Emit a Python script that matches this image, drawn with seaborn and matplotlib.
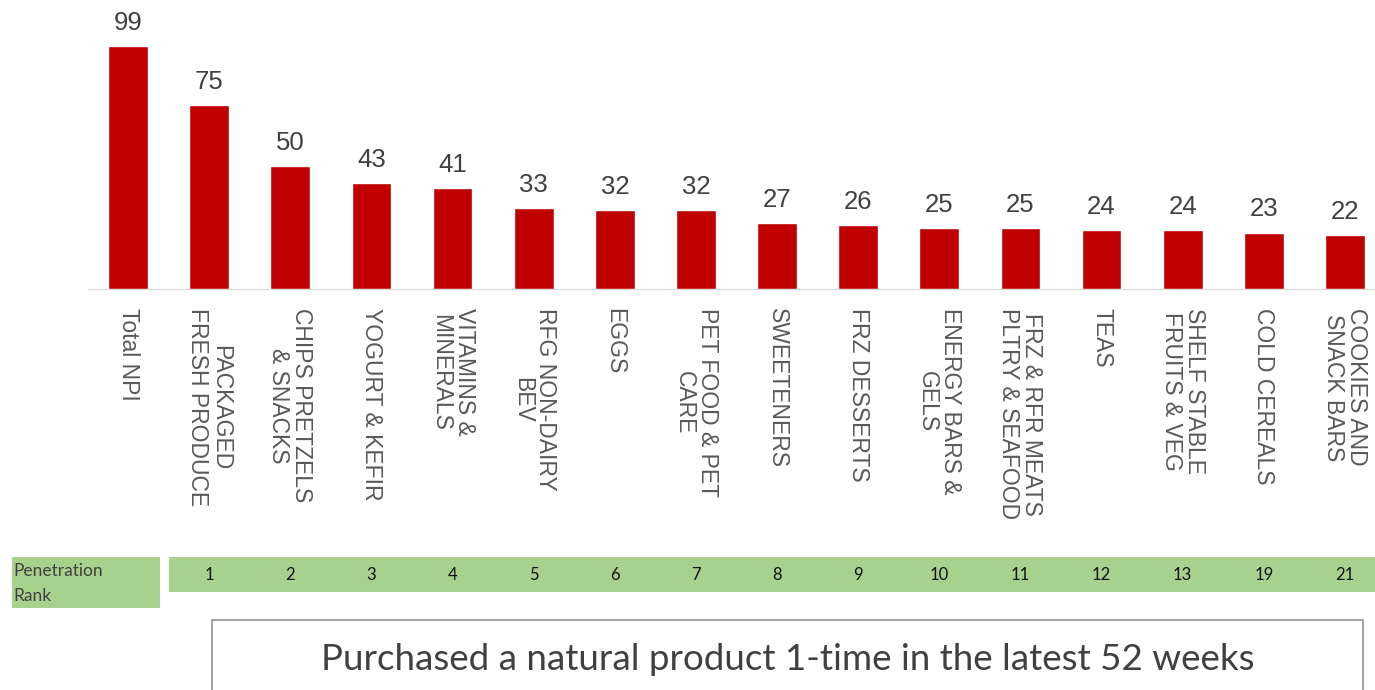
import matplotlib
matplotlib.use('Agg')
import matplotlib.pyplot as plt
import seaborn as sns
import pandas as pd
from matplotlib.patches import Rectangle

# data
categories = ['Total NPI', 'PACKAGED\nFRESH PRODUCE', 'CHIPS PRETZELS\n& SNACKS', 'YOGURT & KEFIR',
              'VITAMINS &\nMINERALS', 'RFG NON-DAIRY\nBEV', 'EGGS', 'PET FOOD & PET\nCARE',
              'SWEETENERS', 'FRZ DESSERTS', 'ENERGY BARS &\nGELS', 'FRZ & RFR MEATS\nPLTRY & SEAFOOD',
              'TEAS', 'SHELF STABLE\nFRUITS & VEG', 'COLD CEREALS', 'COOKIES AND\nSNACK BARS']
values = [99, 75, 50, 43, 41, 33, 32, 32, 27, 26, 25, 25, 24, 24, 23, 22]
ranks = ['', '1', '2', '3', '4', '5', '6', '7', '8', '9', '10', '11', '12', '13', '19', '21']

df = pd.DataFrame({'category': categories, 'value': values})

sns.set_style('white')
plt.rcParams['font.family'] = ['Liberation Sans', 'DejaVu Sans']

fig = plt.figure(figsize=(13.75, 6.9), dpi=100)
ax = fig.add_axes([87.5 / 1375, 1 - 289 / 690, 1298 / 1375, 289 / 690])

sns.barplot(data=df, x='category', y='value', color='#C00000', width=0.49,
            saturation=1, ax=ax)
ax.set_xlim(-0.5, 15.5)
ax.set_ylim(0, 117.7)
for i, v in enumerate(values):
    ax.text(i, v + 4.5, str(v), ha='center', va='bottom', fontsize=18.5, color='#404040')

for s in ['top', 'right', 'left']:
    ax.spines[s].set_visible(False)
ax.spines['bottom'].set_color('#D9D9D9')
ax.set_yticks([])
ax.set_xlabel('')
ax.set_ylabel('')
ax.set_xticks(range(len(categories)))
ax.set_xticklabels(categories, rotation=270, va='top', ha='center',
                   multialignment='center', fontsize=16.5, color='#595959',
                   linespacing=1.0)
ax.tick_params(axis='x', length=0, pad=14)

# penetration rank row
rax = fig.add_axes([87.5 / 1375, 1 - 592 / 690, 1298 / 1375, 35 / 690], sharex=ax)
rax.axvspan(0.5, 15.5, color='#A9D18E', lw=0)
for i, r in enumerate(ranks):
    rax.text(i, 0.5, r, ha='center', va='center', fontsize=12, color='#111111',
             family=['Lato', 'DejaVu Sans'])
rax.set_ylim(0, 1)
rax.axis('off')

fig.patches.append(Rectangle((12 / 1375, 1 - 608 / 690), 148 / 1375, 51 / 690,
                             transform=fig.transFigure, color='#A9D18E', lw=0))
fig.text(13 / 1375, 1 - 571 / 690, 'Penetration', ha='left', va='center', fontsize=12.5,
         color='#404040', family=['Lato', 'DejaVu Sans'])
fig.text(13 / 1375, 1 - 596 / 690, 'Rank', ha='left', va='center', fontsize=12.5,
         color='#404040', family=['Lato', 'DejaVu Sans'])

fig.patches.append(Rectangle((212 / 1375, -0.05), 1151 / 1375, 0.05 + 70 / 690,
                             transform=fig.transFigure, facecolor='white',
                             edgecolor='#A6A6A6', lw=1.5))
fig.text(788 / 1375, 1 - 659 / 690, 'Purchased a natural product 1-time in the latest 52 weeks',
         ha='center', va='center', fontsize=26.5, color='#404040',
         family=['Lato', 'DejaVu Sans'])

fig.savefig('out.png', dpi=100)
